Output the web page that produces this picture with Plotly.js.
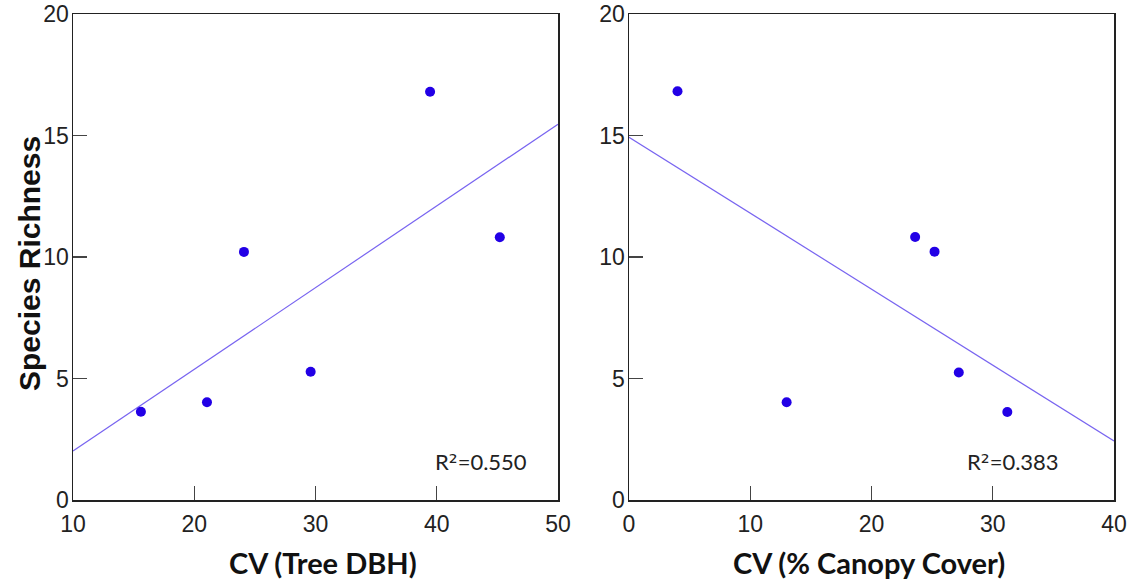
<!DOCTYPE html>
<html><head><meta charset="utf-8">
<script src="https://cdn.plot.ly/plotly-3.0.1.min.js"></script>
<style>html,body{margin:0;padding:0;background:#fff}#chart{width:1135px;height:584px}</style>
</head><body><div id="chart"></div>
<script>
// Left panel: CV (Tree DBH) vs Species Richness
const dbhX = [15.6, 21.05, 24.1, 29.6, 39.45, 45.2];
const dbhY = [3.63, 4.02, 10.21, 5.28, 16.8, 10.81];
// Right panel: CV (% Canopy Cover) vs Species Richness
const canopyX = [4.0, 13.0, 23.6, 25.2, 27.2, 31.2];
const canopyY = [16.82, 4.02, 10.82, 10.22, 5.25, 3.62];
const r2Values = ["0.550", "0.383"];
const xTitles = ["CV (Tree DBH)", "CV (% Canopy Cover)"];
const yTitle = "Species Richness";
const xRanges = [[10, 50], [0, 40]];
const yRange = [0, 20];

function fit(xs, ys) {
  const n = xs.length;
  const mx = xs.reduce((a, b) => a + b, 0) / n;
  const my = ys.reduce((a, b) => a + b, 0) / n;
  let sxy = 0, sxx = 0;
  for (let i = 0; i < n; i++) { sxy += (xs[i] - mx) * (ys[i] - my); sxx += (xs[i] - mx) ** 2; }
  const b = sxy / sxx, a = my - b * mx;
  return x => a + b * x;
}
const f1 = fit(dbhX, dbhY), f2 = fit(canopyX, canopyY);
const r2Text = v => "R<span style='font-family:DejaVu Sans'>²</span>=" + v;

const ptColor = 'rgb(34,0,230)';
const lineColor = 'rgb(120,100,240)';
const traces = [
  {x: xRanges[0], y: xRanges[0].map(f1), mode: 'lines', line: {color: lineColor, width: 1.2}, xaxis: 'x', yaxis: 'y', hoverinfo: 'skip'},
  {x: dbhX, y: dbhY, mode: 'markers', marker: {color: ptColor, size: 10}, xaxis: 'x', yaxis: 'y'},
  {x: xRanges[1], y: xRanges[1].map(f2), mode: 'lines', line: {color: lineColor, width: 1.2}, xaxis: 'x2', yaxis: 'y2', hoverinfo: 'skip'},
  {x: canopyX, y: canopyY, mode: 'markers', marker: {color: ptColor, size: 10}, xaxis: 'x2', yaxis: 'y2'}
];

const tickFont = {family: 'Liberation Sans', size: 23, color: '#222'};
const xTitleFont = {family: 'Lato', size: 29, color: '#111', weight: 'bold'};
const yTitleFont = {family: 'Liberation Sans', size: 30, color: '#111', weight: 'bold'};
const r2Font = {family: 'Lato', size: 22, color: '#222'};
const yDom = [1 - 500 / 584, 1 - 14 / 584];
function xa(dom, range) {
  return {domain: dom, range: range, dtick: 10, showgrid: false, zeroline: false,
    showline: true, mirror: true, linecolor: '#222', linewidth: 1.5,
    ticks: 'inside', ticklen: 14, tickcolor: '#444', tickwidth: 1.2,
    tickfont: tickFont, ticklabelstandoff: 3};
}
function ya() {
  return {domain: yDom, range: yRange, dtick: 5, showgrid: false, zeroline: false,
    showline: true, mirror: true, linecolor: '#222', linewidth: 1.5,
    ticks: 'inside', ticklen: 14, tickcolor: '#444', tickwidth: 1.2,
    tickfont: tickFont, ticklabelstandoff: -2};
}
const layout = {
  width: 1135, height: 584, showlegend: false,
  margin: {l: 0, r: 0, t: 0, b: 0},
  paper_bgcolor: '#fff', plot_bgcolor: '#fff',
  xaxis: Object.assign(xa([73 / 1135, 558 / 1135], xRanges[0]), {anchor: 'y'}),
  yaxis: Object.assign(ya(), {anchor: 'x'}),
  xaxis2: Object.assign(xa([629 / 1135, 1114 / 1135], xRanges[1]), {anchor: 'y2'}),
  yaxis2: Object.assign(ya(), {anchor: 'x2'}),
  annotations: [
    {xref: 'x', yref: 'y', x: 47.6, y: 1.6, xanchor: 'right', yanchor: 'middle', showarrow: false,
     text: r2Text(r2Values[0]), font: r2Font},
    {xref: 'x2', yref: 'y2', x: 35.6, y: 1.6, xanchor: 'right', yanchor: 'middle', showarrow: false,
     text: r2Text(r2Values[1]), font: r2Font},
    {xref: 'paper', yref: 'paper', x: 323 / 1135, y: 1 - 562 / 584, xanchor: 'center', yanchor: 'middle',
     showarrow: false, text: xTitles[0], font: xTitleFont},
    {xref: 'paper', yref: 'paper', x: 869 / 1135, y: 1 - 562 / 584, xanchor: 'center', yanchor: 'middle',
     showarrow: false, text: xTitles[1], font: xTitleFont},
    {xref: 'paper', yref: 'paper', x: 29 / 1135, y: 1 - 264 / 584, xanchor: 'center', yanchor: 'middle',
     showarrow: false, textangle: -90, text: yTitle, font: yTitleFont}
  ]
};
Plotly.newPlot('chart', traces, layout, {displayModeBar: false, staticPlot: true});
</script></body></html>
